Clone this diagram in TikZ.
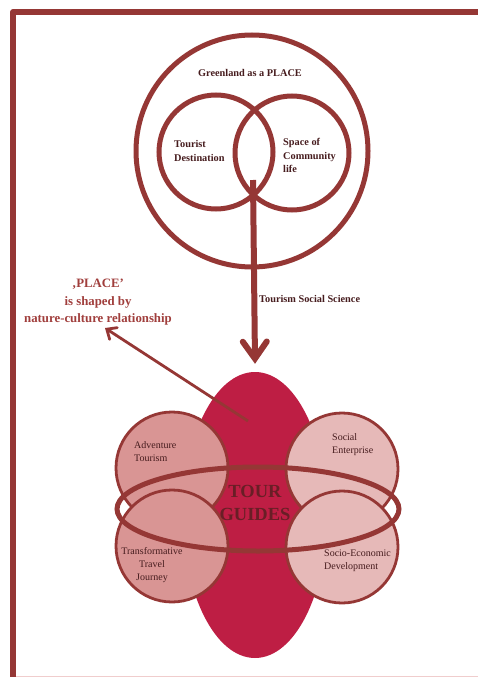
\documentclass[tikz,border=0pt]{standalone}
\usepackage{fontspec}
\setmainfont{Liberation Serif}
\usetikzlibrary{arrows.meta,shapes.geometric}

\definecolor{framered}{RGB}{149,55,53}
\definecolor{eggred}{RGB}{190,30,68}
\definecolor{rosedark}{RGB}{217,149,148}
\definecolor{roselight}{RGB}{230,185,184}
\definecolor{inktext}{RGB}{70,28,30}
\definecolor{placeink}{RGB}{160,62,60}
\definecolor{guideink}{RGB}{105,30,38}
\definecolor{footline}{RGB}{240,205,205}

\begin{document}
\begin{tikzpicture}[x=1pt,y=-1pt,
  ringline/.style={draw=framered,line width=5pt},
  venncircle/.style={circle,ringline,inner sep=0pt,minimum size=#1},
  petal/.style={circle,draw=framered,line width=2.8pt,inner sep=0pt,minimum size=112pt,fill=#1},
  smalllbl/.style={inner sep=0pt,text=inktext,align=left,
    font=\bfseries\fontsize{10.3}{14}\selectfont},
  petallbl/.style={inner sep=0pt,text=inktext,align=left,
    font=\fontsize{10}{13}\selectfont},
  bigarrow/.style={draw=framered,line width=6pt,
    -{Straight Barb[length=17pt,width=24pt,line cap=round]}},
  thinarrow/.style={draw=framered,line width=2.8pt,
    -{Straight Barb[length=8pt,width=14pt,line cap=round]}}]

\useasboundingbox (0,0) rectangle (478,677);

% page frame
\draw[framered,line width=6pt,line join=round] (13,677) -- (13,12) -- (478,12);
\draw[footline,line width=1.2pt] (16,676.4) -- (478,676.4);

% place diagram: outer circle with two overlapping circles
\node[venncircle=232pt] (place) at (252,151) {};
\node[venncircle=114pt] (destination) at (216,152) {};
\node[venncircle=114pt] (community) at (292,153) {};

\node[smalllbl,anchor=center] (placetitle) at (250,73) {Greenland as a PLACE};
\node[smalllbl,anchor=west] (destlbl) at (174,150.5) {Tourist\\Destination};
\node[smalllbl,anchor=west,font=\bfseries\fontsize{10.3}{13.5}\selectfont] (commlbl) at (283,155.5) {Space of\\Community\\life};

% tour guides core
\node[ellipse,fill=eggred,inner sep=0pt,minimum width=144pt,minimum height=286pt] (egg) at (255,515) {};

% connectors
\coordinate (stem) at (253,180);
\draw[bigarrow,shorten >=-2pt] (stem) -- ([yshift=10pt]egg.north);
\node[smalllbl,anchor=west] (sciencelbl) at (259,299) {Tourism Social Science};

\node[inner sep=0pt,align=center,text=placeink,
  font=\bfseries\fontsize{12.8}{17.5}\selectfont] (placenote) at (98,302.5)
  {‚PLACE’\\is shaped by\\nature-culture relationship};
\coordinate (eggpoint) at (248,421);
\coordinate (notetip) at (105,328);
\draw[thinarrow] (eggpoint) -- (notetip);

% four petals
\node[petal=rosedark] (adventure) at (172,468) {};
\node[petal=roselight] (social) at (342,469) {};
\node[petal=rosedark] (transform) at (172,546) {};
\node[petal=roselight] (socioeco) at (342,547) {};

% encircling ring
\draw[framered,line width=5pt] (258,509) ellipse [x radius=141,y radius=42];

% labels
\node[petallbl,anchor=west] (advlbl) at (134,451.5) {Adventure\\Tourism};
\node[petallbl,anchor=west] (soclbl) at (332,444.5) {Social\\Enterprise};
\node[petallbl,align=center] (trflbl) at (152,565) {Transformative\\Travel\\Journey};
\node[petallbl,anchor=west] (seclbl) at (324,560.5) {Socio-Economic\\Development};

\node[inner sep=0pt,align=center,text=guideink,
  font=\bfseries\fontsize{18.5}{23}\selectfont] (guides) at (255,503) {TOUR\\GUIDES};
\end{tikzpicture}
\end{document}
